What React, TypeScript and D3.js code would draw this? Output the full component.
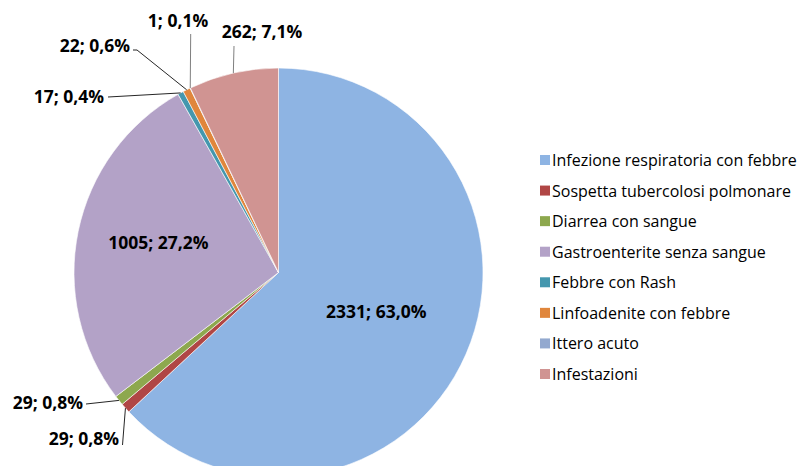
import React, { useEffect, useRef } from 'react';
import * as d3 from 'd3';

const categories = [
  'Infezione respiratoria con febbre',
  'Sospetta tubercolosi polmonare',
  'Diarrea con sangue',
  'Gastroenterite senza sangue',
  'Febbre con Rash',
  'Linfoadenite con febbre',
  'Ittero acuto',
  'Infestazioni',
];
const values = [2331, 29, 29, 1005, 17, 22, 1, 262];
const percentLabels = ['63,0%', '0,8%', '0,8%', '27,2%', '0,4%', '0,6%', '0,1%', '7,1%'];
const colors = ['#8EB4E3', '#B04645', '#8DA84E', '#B3A2C7', '#4497AE', '#E0863C', '#93A9CF', '#D09492'];

// label layout: inside labels use a centroid radius factor, outside ones a leader end + text position
type LabelPos =
  | { kind: 'in'; k: number; dy: number }
  | { kind: 'out'; end: [number, number]; elbow?: [number, number]; text: [number, number]; anchor: string };

const labelLayout: LabelPos[] = [
  { kind: 'in', k: 0.5, dy: -2 },
  { kind: 'out', end: [122.5, 445], text: [119, 445], anchor: 'end' },
  { kind: 'out', end: [86, 404], text: [83, 409], anchor: 'end' },
  { kind: 'in', k: 0.6, dy: -6 },
  { kind: 'out', end: [108, 97], text: [104, 103], anchor: 'end' },
  { kind: 'out', end: [137, 50], elbow: [133, 50], text: [130, 52], anchor: 'end' },
  { kind: 'out', end: [190.7, 34], text: [178, 27], anchor: 'middle' },
  { kind: 'out', end: [234, 46], text: [262, 38], anchor: 'middle' },
];

const W = 808;
const H = 474;
const cx = 278.5;
const cy = 272.5;
const R = 204.5;
const FONT = '"Open Sans", Lato, sans-serif';

const App: React.FC = () => {
  const svgRef = useRef<SVGSVGElement>(null);

  useEffect(() => {
    if (!svgRef.current) return;
    const svg = d3.select(svgRef.current);
    svg.selectAll('*').remove();

    const pie = d3.pie<number>().sort(null).value(d => d);
    const arcs = pie(values);
    const arc = d3.arc<d3.PieArcDatum<number>>().innerRadius(0).outerRadius(R);

    const g = svg.append('g').attr('transform', `translate(${cx},${cy})`);

    g.selectAll('path.slice')
      .data(arcs)
      .enter()
      .append('path')
      .attr('class', 'slice')
      .attr('d', arc)
      .attr('fill', (_d, i) => colors[i])
      .attr('stroke', '#ffffff')
      .attr('stroke-width', 0.6);

    const labels = svg.append('g').attr('font-family', FONT).attr('font-weight', 'bold').attr('font-size', 17.5).attr('fill', '#000');

    arcs.forEach((a, i) => {
      const lay = labelLayout[i];
      const text = `${values[i]}; ${percentLabels[i]}`;
      const mid = (a.startAngle + a.endAngle) / 2;
      if (lay.kind === 'in') {
        const r = R * lay.k;
        labels.append('text')
          .attr('x', cx + r * Math.sin(mid) + (i === 0 ? 4 : 0))
          .attr('y', cy - r * Math.cos(mid) + lay.dy)
          .attr('text-anchor', 'middle')
          .attr('dominant-baseline', 'central')
          .text(text);
      } else {
        const sx = cx + R * Math.sin(mid);
        const sy = cy - R * Math.cos(mid);
        const pts: [number, number][] = [[sx, sy], lay.end];
        if (lay.elbow) pts.push(lay.elbow);
        svg.append('path')
          .attr('d', d3.line()(pts) || '')
          .attr('fill', 'none')
          .attr('stroke', lay.anchor === 'middle' ? '#7f7f7f' : '#262626')
          .attr('stroke-width', 1);
        labels.append('text')
          .attr('x', lay.text[0])
          .attr('y', lay.text[1])
          .attr('text-anchor', lay.anchor)
          .text(text);
      }
    });

    const legend = svg.append('g').attr('font-family', FONT).attr('font-size', 16).attr('fill', '#000');
    const rowY = d3.scalePoint<string>().domain(categories).range([160, 374]);
    categories.forEach((c, i) => {
      const y = rowY(c) as number;
      legend.append('rect').attr('x', 540).attr('y', y - 5).attr('width', 10).attr('height', 10).attr('fill', colors[i]);
      legend.append('text').attr('x', 552).attr('y', y).attr('dominant-baseline', 'central').text(c);
    });
  }, []);

  return (
    <div style={{ margin: -8 }}>
      <svg ref={svgRef} width={W} height={H} style={{ display: 'block', background: '#fff' }}></svg>
    </div>
  );
};

export default App;
